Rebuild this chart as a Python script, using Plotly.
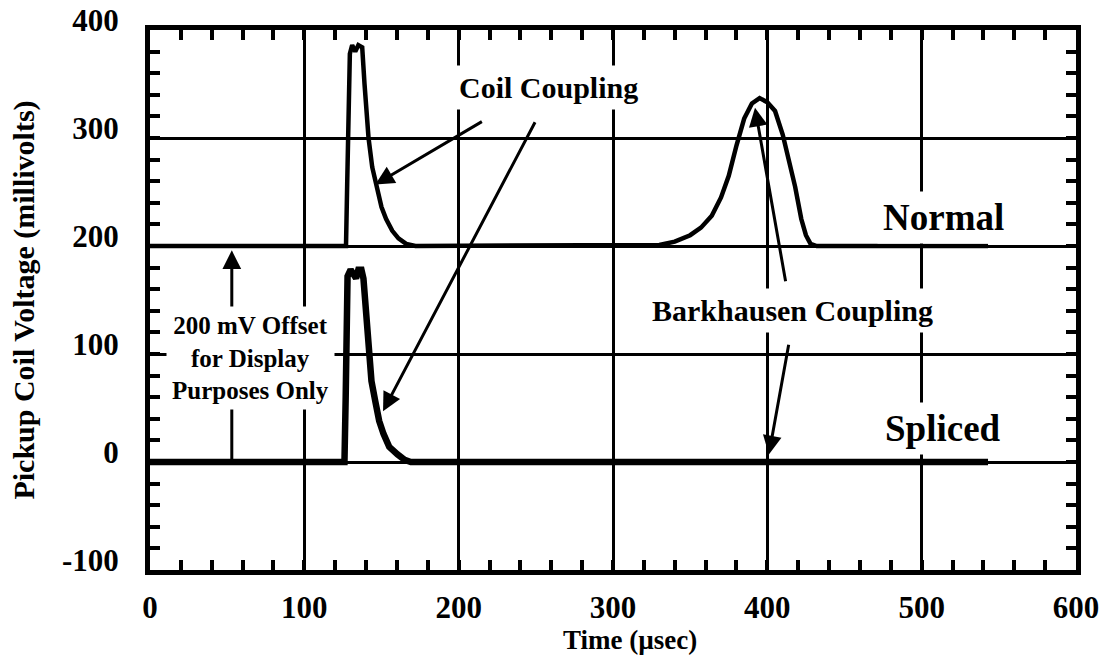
import plotly.graph_objects as go

# Pickup coil traces (time in microseconds, voltage in millivolts)
normal_t = [0, 127, 127.8, 128.5, 129.5, 131, 133, 135, 137.5, 139, 141.6, 144, 147, 150,
            153, 157, 161, 166, 172, 320, 330, 340, 350, 357, 364, 370, 375, 380, 385,
            390, 395, 400, 405, 410, 414, 418, 422, 425, 428, 432, 543]
normal_mv = [200, 200, 260, 340, 378, 386, 380, 386, 384, 350, 300, 273, 252, 236,
             225, 214, 207, 202, 200, 200, 201, 204, 210, 217, 228, 245, 265, 293, 318,
             332, 337, 333, 325, 303, 280, 255, 225, 210, 202, 200, 200]

spliced_t = [0, 126, 126.8, 127.4, 128, 130, 132, 133.5, 135, 137, 138.3, 139.6, 141.6,
             143.5, 146, 148.5, 151.3, 155, 160.4, 165, 169, 543]
spliced_mv = [0, 0, 60, 150, 172, 178, 172, 170, 178, 178, 170, 146, 103,
              75, 56, 38, 26, 14, 7, 2, 0, 0]

x_ticks = [0, 100, 200, 300, 400, 500, 600]
y_ticks = [-100, 0, 100, 200, 300, 400]
y_tick_text = ["-100", "0", "100", "200", "300", "400"]

FONT = "Liberation Serif"

fig = go.Figure()
fig.add_trace(go.Scatter(x=normal_t, y=normal_mv, mode="lines", name="Normal",
                         line=dict(color="black", width=4.5)))
fig.add_trace(go.Scatter(x=spliced_t, y=spliced_mv, mode="lines", name="Spliced",
                         line=dict(color="black", width=6.5)))

axis_common = dict(
    showgrid=True, gridcolor="black", gridwidth=3,
    showline=True, linecolor="black", linewidth=5, mirror="allticks",
    ticks="inside", ticklen=10, tickwidth=4, tickcolor="black",
    zeroline=False, automargin=False,
    tickfont=dict(family=FONT, size=31, color="black", weight="bold"),
    minor=dict(dtick=20, ticks="inside", ticklen=10, tickwidth=4,
               tickcolor="black", showgrid=False),
)

fig.update_xaxes(range=[0, 600], tickvals=x_ticks, ticklabelstandoff=6, **axis_common)
fig.update_yaxes(range=[-100, 400], tickvals=y_ticks, ticktext=y_tick_text,
                 ticklabelstandoff=20, ticklabelshift=-10,
                 title=dict(text="Pickup Coil Voltage (millivolts)", standoff=20,
                            font=dict(family=FONT, size=30, color="black", weight="bold")),
                 **axis_common)

arrow = dict(showarrow=True, arrowhead=2, arrowsize=1.25, arrowwidth=3,
             arrowcolor="black", axref="x", ayref="y", text="")
annotations = [
    # arrows first so that the labels sit on top of them
    dict(x=146, y=257, ax=216, ay=316, **arrow),
    dict(x=151, y=47, ax=250, ay=316, **arrow),
    dict(x=392, y=328, ax=412, ay=166, **arrow),
    dict(x=401, y=7, ax=414, ay=110, **arrow),
    dict(x=53, y=196, ax=53, ay=0, **arrow),
]

label_font = dict(family=FONT, color="black", weight="bold")
labels = [
    ("Coil Coupling", 258, 347, 30),
    ("200 mV Offset<br>for Display<br>Purposes Only", 65, 96, 25),
    ("Normal", 514, 226, 37),
    ("Spliced", 514, 31, 37),
    ("Barkhausen Coupling", 416, 140, 30),
]
for text, x, y, size in labels:
    annotations.append(dict(text=text, x=x, y=y, xref="x", yref="y", showarrow=False,
                            bgcolor="white", borderpad=5,
                            font=dict(size=size, **label_font)))

# x-axis title, placed below the tick labels
annotations.append(dict(text="Time (µsec)", xref="paper", yref="paper", x=0.518, y=-0.13,
                        xanchor="center", yanchor="middle", showarrow=False,
                        font=dict(size=27, **label_font)))

fig.update_layout(
    width=1101, height=669,
    margin=dict(l=150, r=25, t=30, b=99),
    paper_bgcolor="white", plot_bgcolor="white",
    showlegend=False,
    annotations=annotations,
)

fig.write_html("out.html")
